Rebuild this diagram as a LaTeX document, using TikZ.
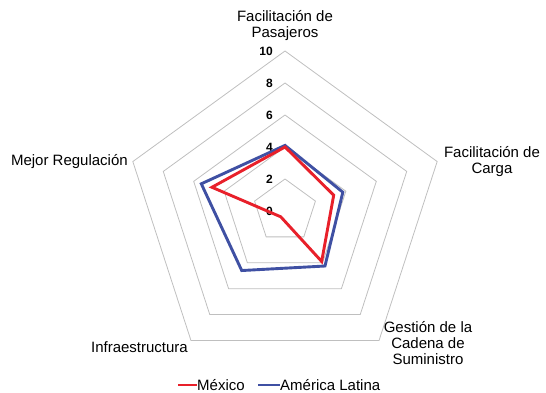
\documentclass[tikz,border=0pt]{standalone}
\usepackage{fontspec}
\setmainfont{Liberation Sans}
\usetikzlibrary{calc}
\definecolor{mxred}{HTML}{E8202A}
\definecolor{alblue}{HTML}{3F50A3}
\definecolor{gridgray}{HTML}{BFBFBF}
\begin{document}
\begin{tikzpicture}[x=1pt,y=1pt,
  gridline/.style={draw=gridgray, line width=0.8pt},
  axlabel/.style={font=\fontsize{15}{16}\selectfont, align=center, inner sep=0pt},
  ticklabel/.style={font=\bfseries\fontsize{12}{13}\selectfont, inner sep=0pt, anchor=east},
  series/.style={line width=2.9pt, line join=miter},
  legtext/.style={font=\fontsize{15}{16}\selectfont, anchor=west, inner sep=0pt}]
\useasboundingbox (0,0) rectangle (546,393);
\coordinate (C) at (285,182);
% grid pentagons
\foreach \l in {2,4,6,8,10}{
  \draw[gridline] ($(C)+(90:16*\l pt)$) -- ($(C)+(18:16*\l pt)$) -- ($(C)+(-54:16*\l pt)$) -- ($(C)+(-126:16*\l pt)$) -- ($(C)+(162:16*\l pt)$) -- cycle;
}
% tick labels
\foreach \l in {0,2,4,6,8,10}{
  \node[ticklabel] (t\l) at ($(C)+(-12pt,16*\l pt)$) {\l};
}
% series
\draw[series, draw=alblue] ($(C)+(90:4.1*16pt)$) -- ($(C)+(18:3.8*16pt)$) -- ($(C)+(-54:4.25*16pt)$) -- ($(C)+(-126:4.6*16pt)$) -- ($(C)+(162:5.5*16pt)$) -- cycle;
\draw[series, draw=mxred] ($(C)+(90:4.0*16pt)$) -- ($(C)+(18:3.2*16pt)$) -- ($(C)+(-54:3.9*16pt)$) -- ($(C)+(-126:0.45*16pt)$) -- ($(C)+(162:4.8*16pt)$) -- cycle;
% axis labels
\node[axlabel] (pas) at (285,367) {Facilitación de\\Pasajeros};
\node[axlabel] (car) at (492,231) {Facilitación de\\Carga};
\node[axlabel] (ges) at (428,50) {Gestión de la\\Cadena de\\Suministro};
\node[axlabel, anchor=east] (reg) at (128,231) {Mejor Regulación};
\node[axlabel, anchor=east] (inf) at (188,46) {Infraestructura};
% legend
\coordinate (lr1) at (178,8);
\coordinate (lr2) at (197,8);
\coordinate (lb1) at (258,8);
\coordinate (lb2) at (280,8);
\draw[draw=mxred, line width=2.9pt] (lr1) -- (lr2);
\node[legtext] (lmx) at (lr2) {México};
\draw[draw=alblue, line width=2.9pt] (lb1) -- (lb2);
\node[legtext] (lal) at (lb2) {América Latina};
\end{tikzpicture}
\end{document}
